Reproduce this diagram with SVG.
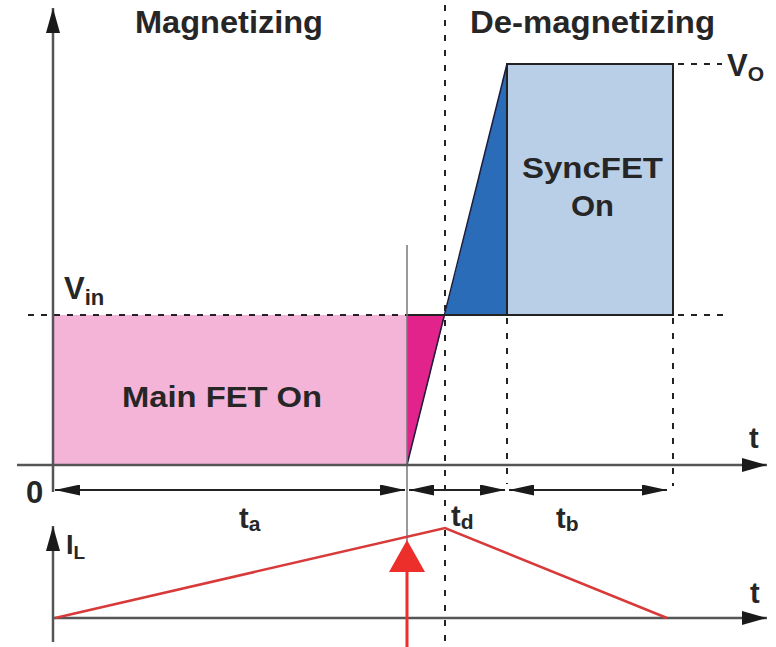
<svg xmlns="http://www.w3.org/2000/svg" width="776" height="647" viewBox="0 0 776 647">
<style>
.lbl{font-family:"Liberation Sans",Arial,sans-serif;font-weight:bold;fill:#262626}
.axis{stroke:#555;stroke-width:2.5;fill:none}
.dash{stroke:#222;stroke-width:2;stroke-dasharray:6 7;fill:none}
.dot{stroke:#222;stroke-width:2;stroke-dasharray:6 9;fill:none}
.dim{stroke:#222;stroke-width:2;fill:none}
</style>
<defs>
<marker id="ax" viewBox="0 0 25 14" refX="25" refY="7" markerWidth="25" markerHeight="14" markerUnits="userSpaceOnUse" orient="auto-start-reverse">
<path d="M0,0 L25,7 L0,14 z" fill="#1a1a1a"/>
</marker>
<marker id="dm" viewBox="0 0 25 11" refX="25" refY="5.5" markerWidth="25" markerHeight="11" markerUnits="userSpaceOnUse" orient="auto-start-reverse">
<path d="M0,0 L25,5.5 L0,11 z" fill="#1a1a1a"/>
</marker>
</defs>
<rect width="776" height="647" fill="#fff"/>

<g id="main-fet">
<rect x="53" y="315" width="354" height="150" fill="#f4b4d8"/>
<text class="lbl" x="122" y="407" font-size="29" textLength="200" lengthAdjust="spacingAndGlyphs" fill="#3b1f2e">Main FET On</text>
</g>
<g id="magenta-ramp">
<polygon points="407,315 445,315 407,465" fill="#e2238c"/>
</g>
<g id="blue-ramp">
<polygon points="445,315 507,64 507,315" fill="#2a6cb8"/>
</g>
<g id="syncfet">
<rect x="507" y="64" width="166" height="251" fill="#b9cfe8" stroke="#222" stroke-width="2"/>
<text class="lbl" x="522" y="178" font-size="30" textLength="141" lengthAdjust="spacingAndGlyphs" fill="#1e2a3a">SyncFET</text>
<text class="lbl" x="571" y="216" font-size="30" textLength="43" lengthAdjust="spacingAndGlyphs" fill="#1e2a3a">On</text>
</g>

<g id="connectors">
<line x1="407" y1="465" x2="507" y2="64" stroke="#1a1a3a" stroke-width="1.5"/>
<line x1="407" y1="315" x2="673" y2="315" stroke="#222" stroke-width="2"/>
<line class="dash" x1="28" y1="315" x2="407" y2="315"/>
<line class="dash" x1="678" y1="315" x2="724" y2="315"/>
<line class="dash" x1="678" y1="64" x2="722" y2="64"/>
<line class="dot" x1="445" y1="5" x2="445" y2="647"/>
<line class="dot" x1="507" y1="318" x2="507" y2="484"/>
<line class="dot" x1="673" y1="318" x2="673" y2="486"/>
<line x1="407" y1="245" x2="407" y2="545" stroke="#777" stroke-width="1.5"/>
<line class="axis" x1="53" y1="492" x2="53" y2="8" marker-end="url(#ax)"/>
<line class="axis" x1="17" y1="465" x2="767" y2="465" marker-end="url(#ax)"/>
<line class="axis" x1="53" y1="642" x2="53" y2="526" marker-end="url(#ax)"/>
<line class="axis" x1="53" y1="618" x2="767" y2="618" marker-end="url(#ax)"/>
<line class="dim" x1="55" y1="490" x2="405" y2="490" marker-start="url(#dm)" marker-end="url(#dm)"/>
<line class="dim" x1="409" y1="490" x2="505" y2="490" marker-start="url(#dm)" marker-end="url(#dm)"/>
<line class="dim" x1="509" y1="490" x2="667" y2="490" marker-start="url(#dm)" marker-end="url(#dm)"/>
<polyline points="55,618 445,528 667,618" fill="none" stroke="#d83a3a" stroke-width="2.5"/>
<polygon points="407,540 389,572 425,572" fill="#ec2f2a"/>
<rect x="405.5" y="572" width="3" height="75" fill="#ec2f2a"/>
</g>

<g id="labels">
<text class="lbl" x="135" y="33" font-size="31" textLength="188" lengthAdjust="spacingAndGlyphs">Magnetizing</text>
<text class="lbl" x="470" y="33" font-size="31" textLength="245" lengthAdjust="spacingAndGlyphs">De-magnetizing</text>
<text class="lbl" x="64" y="299" font-size="31">V<tspan font-size="22" dy="6">in</tspan></text>
<text class="lbl" x="727" y="76" font-size="31">V<tspan font-size="21" dy="5">O</tspan></text>
<text class="lbl" x="26" y="503" font-size="31">0</text>
<text class="lbl" x="749" y="448" font-size="29">t</text>
<text class="lbl" x="750" y="603" font-size="29">t</text>
<text class="lbl" x="239" y="528" font-size="29">t<tspan font-size="21" dy="3">a</tspan></text>
<text class="lbl" x="451" y="526" font-size="29">t<tspan font-size="21" dy="3">d</tspan></text>
<text class="lbl" x="556" y="528" font-size="29">t<tspan font-size="21" dy="3">b</tspan></text>
<text class="lbl" x="66" y="554" font-size="27">I<tspan font-size="19" dy="5">L</tspan></text>
</g>
</svg>
